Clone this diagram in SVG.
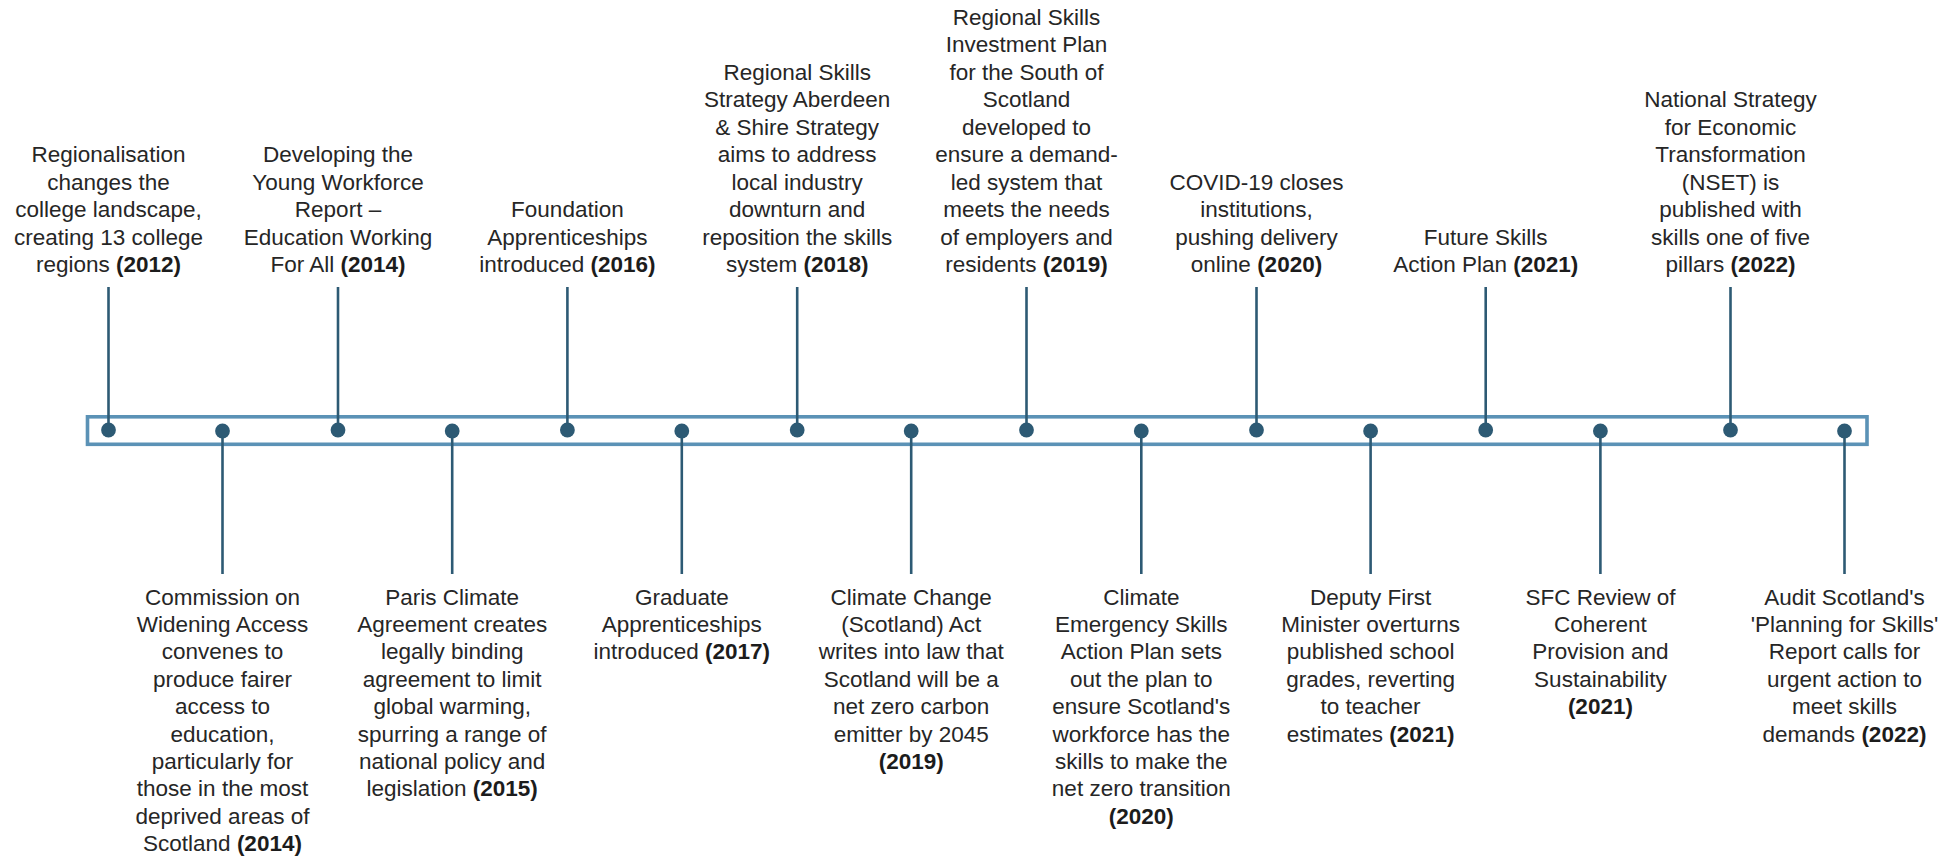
<svg xmlns="http://www.w3.org/2000/svg" width="1941" height="857" viewBox="0 0 1941 857">
<style>
.bar{fill:none;stroke:#5b92b6;stroke-width:3.6}
.stem{stroke:#2d5a74;stroke-width:2.6;fill:none}
.dot{fill:#2d5a74}
text{font-family:"Liberation Sans",Arial,sans-serif;font-size:22.5px;fill:#262626;text-anchor:middle}
.b{font-weight:bold;fill:#1c1c1c}
</style>
<rect id="timeline-bar" class="bar" x="87.5" y="416.8" width="1779.5" height="27.5"/>
<g id="connectors">
<line class="stem" x1="108.5" y1="287" x2="108.5" y2="430"/>
<line class="stem" x1="222.5" y1="431" x2="222.5" y2="574"/>
<line class="stem" x1="338" y1="287" x2="338" y2="430"/>
<line class="stem" x1="452.2" y1="431" x2="452.2" y2="574"/>
<line class="stem" x1="567.4" y1="287" x2="567.4" y2="430"/>
<line class="stem" x1="681.8" y1="431" x2="681.8" y2="574"/>
<line class="stem" x1="797.2" y1="287" x2="797.2" y2="430"/>
<line class="stem" x1="911.2" y1="431" x2="911.2" y2="574"/>
<line class="stem" x1="1026.5" y1="287" x2="1026.5" y2="430"/>
<line class="stem" x1="1141.3" y1="431" x2="1141.3" y2="574"/>
<line class="stem" x1="1256.5" y1="287" x2="1256.5" y2="430"/>
<line class="stem" x1="1370.6" y1="431" x2="1370.6" y2="574"/>
<line class="stem" x1="1485.7" y1="287" x2="1485.7" y2="430"/>
<line class="stem" x1="1600.4" y1="431" x2="1600.4" y2="574"/>
<line class="stem" x1="1730.5" y1="287" x2="1730.5" y2="430"/>
<line class="stem" x1="1844.5" y1="431" x2="1844.5" y2="574"/>
</g>
<g id="e2012">
<circle class="dot" cx="108.5" cy="430" r="7.4"/>
<text x="108.5" y="162.3"><tspan x="108.5">Regionalisation</tspan><tspan x="108.5" dy="27.5">changes the</tspan><tspan x="108.5" dy="27.5">college landscape,</tspan><tspan x="108.5" dy="27.5">creating 13 college</tspan><tspan x="108.5" dy="27.5">regions <tspan class="b">(2012)</tspan></tspan></text>
</g>
<g id="e2014a">
<circle class="dot" cx="222.5" cy="431" r="7.4"/>
<text x="222.5" y="604.5"><tspan x="222.5">Commission on</tspan><tspan x="222.5" dy="27.4">Widening Access</tspan><tspan x="222.5" dy="27.4">convenes to</tspan><tspan x="222.5" dy="27.4">produce fairer</tspan><tspan x="222.5" dy="27.4">access to</tspan><tspan x="222.5" dy="27.4">education,</tspan><tspan x="222.5" dy="27.4">particularly for</tspan><tspan x="222.5" dy="27.4">those in the most</tspan><tspan x="222.5" dy="27.4">deprived areas of</tspan><tspan x="222.5" dy="27.4">Scotland <tspan class="b">(2014)</tspan></tspan></text>
</g>
<g id="e2014b">
<circle class="dot" cx="338" cy="430" r="7.4"/>
<text x="338" y="162.3"><tspan x="338">Developing the</tspan><tspan x="338" dy="27.5">Young Workforce</tspan><tspan x="338" dy="27.5">Report –</tspan><tspan x="338" dy="27.5">Education Working</tspan><tspan x="338" dy="27.5">For All <tspan class="b">(2014)</tspan></tspan></text>
</g>
<g id="e2015">
<circle class="dot" cx="452.2" cy="431" r="7.4"/>
<text x="452.2" y="604.5"><tspan x="452.2">Paris Climate</tspan><tspan x="452.2" dy="27.4">Agreement creates</tspan><tspan x="452.2" dy="27.4">legally binding</tspan><tspan x="452.2" dy="27.4">agreement to limit</tspan><tspan x="452.2" dy="27.4">global warming,</tspan><tspan x="452.2" dy="27.4">spurring a range of</tspan><tspan x="452.2" dy="27.4">national policy and</tspan><tspan x="452.2" dy="27.4">legislation <tspan class="b">(2015)</tspan></tspan></text>
</g>
<g id="e2016">
<circle class="dot" cx="567.4" cy="430" r="7.4"/>
<text x="567.4" y="217.3"><tspan x="567.4">Foundation</tspan><tspan x="567.4" dy="27.5">Apprenticeships</tspan><tspan x="567.4" dy="27.5">introduced <tspan class="b">(2016)</tspan></tspan></text>
</g>
<g id="e2017">
<circle class="dot" cx="681.8" cy="431" r="7.4"/>
<text x="681.8" y="604.5"><tspan x="681.8">Graduate</tspan><tspan x="681.8" dy="27.4">Apprenticeships</tspan><tspan x="681.8" dy="27.4">introduced <tspan class="b">(2017)</tspan></tspan></text>
</g>
<g id="e2018">
<circle class="dot" cx="797.2" cy="430" r="7.4"/>
<text x="797.2" y="79.8"><tspan x="797.2">Regional Skills</tspan><tspan x="797.2" dy="27.5">Strategy Aberdeen</tspan><tspan x="797.2" dy="27.5">&amp; Shire Strategy</tspan><tspan x="797.2" dy="27.5">aims to address</tspan><tspan x="797.2" dy="27.5">local industry</tspan><tspan x="797.2" dy="27.5">downturn and</tspan><tspan x="797.2" dy="27.5">reposition the skills</tspan><tspan x="797.2" dy="27.5">system <tspan class="b">(2018)</tspan></tspan></text>
</g>
<g id="e2019a">
<circle class="dot" cx="911.2" cy="431" r="7.4"/>
<text x="911.2" y="604.5"><tspan x="911.2">Climate Change</tspan><tspan x="911.2" dy="27.4">(Scotland) Act</tspan><tspan x="911.2" dy="27.4">writes into law that</tspan><tspan x="911.2" dy="27.4">Scotland will be a</tspan><tspan x="911.2" dy="27.4">net zero carbon</tspan><tspan x="911.2" dy="27.4">emitter by 2045</tspan><tspan x="911.2" dy="27.4" class="b">(2019)</tspan></text>
</g>
<g id="e2019b">
<circle class="dot" cx="1026.5" cy="430" r="7.4"/>
<text x="1026.5" y="24.8"><tspan x="1026.5">Regional Skills</tspan><tspan x="1026.5" dy="27.5">Investment Plan</tspan><tspan x="1026.5" dy="27.5">for the South of</tspan><tspan x="1026.5" dy="27.5">Scotland</tspan><tspan x="1026.5" dy="27.5">developed to</tspan><tspan x="1026.5" dy="27.5">ensure a demand-</tspan><tspan x="1026.5" dy="27.5">led system that</tspan><tspan x="1026.5" dy="27.5">meets the needs</tspan><tspan x="1026.5" dy="27.5">of employers and</tspan><tspan x="1026.5" dy="27.5">residents <tspan class="b">(2019)</tspan></tspan></text>
</g>
<g id="e2020a">
<circle class="dot" cx="1141.3" cy="431" r="7.4"/>
<text x="1141.3" y="604.5"><tspan x="1141.3">Climate</tspan><tspan x="1141.3" dy="27.4">Emergency Skills</tspan><tspan x="1141.3" dy="27.4">Action Plan sets</tspan><tspan x="1141.3" dy="27.4">out the plan to</tspan><tspan x="1141.3" dy="27.4">ensure Scotland's</tspan><tspan x="1141.3" dy="27.4">workforce has the</tspan><tspan x="1141.3" dy="27.4">skills to make the</tspan><tspan x="1141.3" dy="27.4">net zero transition</tspan><tspan x="1141.3" dy="27.4" class="b">(2020)</tspan></text>
</g>
<g id="e2020b">
<circle class="dot" cx="1256.5" cy="430" r="7.4"/>
<text x="1256.5" y="189.8"><tspan x="1256.5">COVID-19 closes</tspan><tspan x="1256.5" dy="27.5">institutions,</tspan><tspan x="1256.5" dy="27.5">pushing delivery</tspan><tspan x="1256.5" dy="27.5">online <tspan class="b">(2020)</tspan></tspan></text>
</g>
<g id="e2021a">
<circle class="dot" cx="1370.6" cy="431" r="7.4"/>
<text x="1370.6" y="604.5"><tspan x="1370.6">Deputy First</tspan><tspan x="1370.6" dy="27.4">Minister overturns</tspan><tspan x="1370.6" dy="27.4">published school</tspan><tspan x="1370.6" dy="27.4">grades, reverting</tspan><tspan x="1370.6" dy="27.4">to teacher</tspan><tspan x="1370.6" dy="27.4">estimates <tspan class="b">(2021)</tspan></tspan></text>
</g>
<g id="e2021b">
<circle class="dot" cx="1485.7" cy="430" r="7.4"/>
<text x="1485.7" y="244.8"><tspan x="1485.7">Future Skills</tspan><tspan x="1485.7" dy="27.5">Action Plan <tspan class="b">(2021)</tspan></tspan></text>
</g>
<g id="e2021c">
<circle class="dot" cx="1600.4" cy="431" r="7.4"/>
<text x="1600.4" y="604.5"><tspan x="1600.4">SFC Review of</tspan><tspan x="1600.4" dy="27.4">Coherent</tspan><tspan x="1600.4" dy="27.4">Provision and</tspan><tspan x="1600.4" dy="27.4">Sustainability</tspan><tspan x="1600.4" dy="27.4" class="b">(2021)</tspan></text>
</g>
<g id="e2022a">
<circle class="dot" cx="1730.5" cy="430" r="7.4"/>
<text x="1730.5" y="107.3"><tspan x="1730.5">National Strategy</tspan><tspan x="1730.5" dy="27.5">for Economic</tspan><tspan x="1730.5" dy="27.5">Transformation</tspan><tspan x="1730.5" dy="27.5">(NSET) is</tspan><tspan x="1730.5" dy="27.5">published with</tspan><tspan x="1730.5" dy="27.5">skills one of five</tspan><tspan x="1730.5" dy="27.5">pillars <tspan class="b">(2022)</tspan></tspan></text>
</g>
<g id="e2022b">
<circle class="dot" cx="1844.5" cy="431" r="7.4"/>
<text x="1844.5" y="604.5"><tspan x="1844.5">Audit Scotland's</tspan><tspan x="1844.5" dy="27.4">'Planning for Skills'</tspan><tspan x="1844.5" dy="27.4">Report calls for</tspan><tspan x="1844.5" dy="27.4">urgent action to</tspan><tspan x="1844.5" dy="27.4">meet skills</tspan><tspan x="1844.5" dy="27.4">demands <tspan class="b">(2022)</tspan></tspan></text>
</g>
</svg>
